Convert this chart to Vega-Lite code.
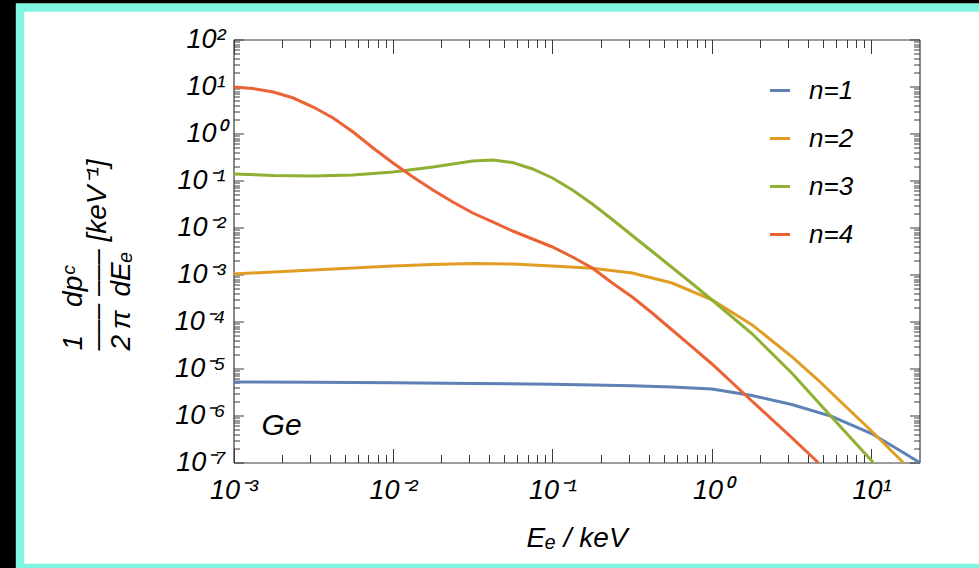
{
  "$schema": "https://vega.github.io/schema/vega-lite/v6.json",
  "width": 959,
  "height": 560.5,
  "autosize": {"type": "none"},
  "padding": {"left": 20, "top": 7.5, "right": 0, "bottom": 0},
  "background": "black",
  "config": {
    "view": {"fill": "white", "stroke": "#80F5DF", "strokeWidth": 8.4, "strokeDash": [959, 560.5, 1519.5], "strokeCap": "square"},
    "font": "Liberation Sans",
    "axis": {
      "grid": false,
      "tickColor": "#3a3a3a",
      "domainColor": "#3a3a3a",
      "tickWidth": 1,
      "domainWidth": 1.2,
      "labelFont": "Liberation Sans",
      "labelFontStyle": "italic",
      "labelFontSize": 27,
      "labelColor": "black",
      "labelOverlap": false,
      "labelFlush": false,
      "titleFont": "Liberation Sans",
      "titleFontStyle": "italic",
      "titleFontWeight": "normal",
      "titleColor": "black"
    }
  },
  "datasets": {
    "curves": [
      {"n": "n=1", "x": 0.001, "y": 5.16e-6},
      {"n": "n=1", "x": 0.003162, "y": 5.10e-6},
      {"n": "n=1", "x": 0.01, "y": 4.96e-6},
      {"n": "n=1", "x": 0.03162, "y": 4.80e-6},
      {"n": "n=1", "x": 0.1, "y": 4.63e-6},
      {"n": "n=1", "x": 0.3162, "y": 4.28e-6},
      {"n": "n=1", "x": 0.5623, "y": 4.04e-6},
      {"n": "n=1", "x": 1, "y": 3.66e-6},
      {"n": "n=1", "x": 1.778, "y": 2.66e-6},
      {"n": "n=1", "x": 3.162, "y": 1.714e-6},
      {"n": "n=1", "x": 5.623, "y": 9.62e-7},
      {"n": "n=1", "x": 10, "y": 4.14e-7},
      {"n": "n=1", "x": 15.07, "y": 1.80e-7},
      {"n": "n=1", "x": 20, "y": 1.0e-7},

      {"n": "n=2", "x": 0.001, "y": 1.025e-3},
      {"n": "n=2", "x": 0.001778, "y": 1.13e-3},
      {"n": "n=2", "x": 0.003162, "y": 1.247e-3},
      {"n": "n=2", "x": 0.005623, "y": 1.375e-3},
      {"n": "n=2", "x": 0.01, "y": 1.517e-3},
      {"n": "n=2", "x": 0.01778, "y": 1.633e-3},
      {"n": "n=2", "x": 0.03162, "y": 1.714e-3},
      {"n": "n=2", "x": 0.05623, "y": 1.672e-3},
      {"n": "n=2", "x": 0.1, "y": 1.517e-3},
      {"n": "n=2", "x": 0.1778, "y": 1.361e-3},
      {"n": "n=2", "x": 0.3162, "y": 1.076e-3},
      {"n": "n=2", "x": 0.5623, "y": 6.59e-4},
      {"n": "n=2", "x": 1, "y": 2.90e-4},
      {"n": "n=2", "x": 1.778, "y": 8.59e-5},
      {"n": "n=2", "x": 3.162, "y": 1.79e-5},
      {"n": "n=2", "x": 4.63, "y": 5.69e-6},
      {"n": "n=2", "x": 5.623, "y": 3.01e-6},
      {"n": "n=2", "x": 8.46, "y": 8.02e-7},
      {"n": "n=2", "x": 10, "y": 4.68e-7},
      {"n": "n=2", "x": 15.8, "y": 1.0e-7},

      {"n": "n=3", "x": 0.001, "y": 0.1375},
      {"n": "n=3", "x": 0.001778, "y": 0.1278},
      {"n": "n=3", "x": 0.003162, "y": 0.1247},
      {"n": "n=3", "x": 0.005623, "y": 0.1309},
      {"n": "n=3", "x": 0.01, "y": 0.1517},
      {"n": "n=3", "x": 0.01778, "y": 0.1937},
      {"n": "n=3", "x": 0.03162, "y": 0.26},
      {"n": "n=3", "x": 0.04217, "y": 0.2731},
      {"n": "n=3", "x": 0.05623, "y": 0.2415},
      {"n": "n=3", "x": 0.07499, "y": 0.1757},
      {"n": "n=3", "x": 0.1, "y": 0.113},
      {"n": "n=3", "x": 0.1334, "y": 0.0628},
      {"n": "n=3", "x": 0.1778, "y": 0.0316},
      {"n": "n=3", "x": 0.2371, "y": 0.0148},
      {"n": "n=3", "x": 0.3162, "y": 6.76e-3},
      {"n": "n=3", "x": 0.4217, "y": 3.09e-3},
      {"n": "n=3", "x": 0.5623, "y": 1.41e-3},
      {"n": "n=3", "x": 0.7499, "y": 6.43e-4},
      {"n": "n=3", "x": 1, "y": 2.87e-4},
      {"n": "n=3", "x": 1.778, "y": 5.55e-5},
      {"n": "n=3", "x": 3.162, "y": 8.02e-6},
      {"n": "n=3", "x": 5.623, "y": 9.29e-7},
      {"n": "n=3", "x": 10.25, "y": 1.0e-7},

      {"n": "n=4", "x": 0.001, "y": 9.76},
      {"n": "n=4", "x": 0.001315, "y": 9.07},
      {"n": "n=4", "x": 0.001778, "y": 7.64},
      {"n": "n=4", "x": 0.002371, "y": 5.69},
      {"n": "n=4", "x": 0.003162, "y": 3.66},
      {"n": "n=4", "x": 0.004217, "y": 2.137},
      {"n": "n=4", "x": 0.005623, "y": 1.076},
      {"n": "n=4", "x": 0.007499, "y": 0.4914},
      {"n": "n=4", "x": 0.01, "y": 0.2357},
      {"n": "n=4", "x": 0.01334, "y": 0.1187},
      {"n": "n=4", "x": 0.01778, "y": 0.0628},
      {"n": "n=4", "x": 0.02371, "y": 0.0349},
      {"n": "n=4", "x": 0.03162, "y": 0.02034},
      {"n": "n=4", "x": 0.04217, "y": 0.0131},
      {"n": "n=4", "x": 0.05623, "y": 8.42e-3},
      {"n": "n=4", "x": 0.07499, "y": 5.69e-3},
      {"n": "n=4", "x": 0.1, "y": 3.85e-3},
      {"n": "n=4", "x": 0.1334, "y": 2.357e-3},
      {"n": "n=4", "x": 0.1778, "y": 1.375e-3},
      {"n": "n=4", "x": 0.2371, "y": 6.59e-4},
      {"n": "n=4", "x": 0.3162, "y": 3.32e-4},
      {"n": "n=4", "x": 0.4217, "y": 1.517e-4},
      {"n": "n=4", "x": 0.5623, "y": 6.59e-5},
      {"n": "n=4", "x": 0.7499, "y": 2.87e-5},
      {"n": "n=4", "x": 1, "y": 1.247e-5},
      {"n": "n=4", "x": 1.778, "y": 2.034e-6},
      {"n": "n=4", "x": 3.162, "y": 3.40e-7},
      {"n": "n=4", "x": 4.63, "y": 1.0e-7}
    ],
    "tag": [
      {"label": "Ge", "x": 0.0015, "y": 3.85e-7}
    ]
  },
  "resolve": {"axis": {"x": "independent", "y": "independent"}},
  "layer": [
    {
      "data": {"name": "curves"},
      "mark": {"type": "line", "strokeWidth": 3},
      "encoding": {
        "x": {
          "field": "x", "type": "quantitative",
          "scale": {"type": "log", "domain": [0.001, 20], "range": [213.5, 899.5], "nice": false},
          "axis": {
            "orient": "bottom", "offset": -105.5,
            "values": [0.001, 0.01, 0.1, 1, 10],
            "labelExpr": "'10' + ['⁻⁷','⁻⁶','⁻⁵','⁻⁴','⁻³','⁻²','⁻¹','⁰','¹','²'][round(log(datum.value)/LN10) + 7]",
            "tickSize": -14, "labelPadding": 29.2, "labelBaseline": "top",
            "domain": true,
            "title": "Eₑ / keV", "titleFontSize": 28, "titleY": 83.5, "titleBaseline": "alphabetic"
          }
        },
        "y": {
          "field": "y", "type": "quantitative",
          "scale": {"type": "log", "domain": [1e-7, 100], "range": [455, 32], "nice": false},
          "axis": {
            "orient": "left", "offset": -213.5,
            "values": [1e-7, 1e-6, 1e-5, 1e-4, 1e-3, 0.01, 0.1, 1, 10, 100],
            "labelExpr": "'10' + ['⁻⁷','⁻⁶','⁻⁵','⁻⁴','⁻³','⁻²','⁻¹','⁰','¹','²'][round(log(datum.value)/LN10) + 7]",
            "tickSize": -10, "labelPadding": 18.5,
            "domain": true,
            "title": ["\u20021\u2002\u2002dpᶜ", "–––\u00a0–––\u00a0[keV⁻¹]", "\u20092\u2009π\u2002dEₑ"],
            "titleFontSize": 28, "titleAlign": "left", "titleBaseline": "middle", "titleAngle": 270,
            "titleX": -160.5, "titleY": 342.5, "titleLineHeight": 24
          }
        },
        "color": {
          "field": "n", "type": "nominal",
          "scale": {"domain": ["n=1", "n=2", "n=3", "n=4"], "range": ["#5E81B5", "#E19C24", "#8FB032", "#EB6235"]},
          "legend": {
            "title": null, "orient": "none", "legendX": 747, "legendY": 70,
            "symbolType": "stroke", "symbolSize": 400, "symbolStrokeWidth": 3,
            "labelFont": "Liberation Sans", "labelFontStyle": "italic", "labelFontSize": 26, "labelColor": "black",
            "labelOffset": 16, "rowPadding": 22, "padding": 0
          }
        }
      }
    },
    {
      "data": {"name": "tag"},
      "mark": {"type": "text", "font": "Liberation Sans", "fontStyle": "italic", "fontSize": 30, "align": "left", "baseline": "alphabetic", "color": "black"},
      "encoding": {
        "x": {
          "field": "x", "type": "quantitative",
          "scale": {"type": "log", "domain": [0.001, 20], "range": [213.5, 899.5], "nice": false},
          "axis": {
            "orient": "bottom", "offset": -105.5,
            "values": [0.002,0.003,0.004,0.005,0.006,0.007,0.008,0.009,0.02,0.03,0.04,0.05,0.06,0.07,0.08,0.09,0.2,0.3,0.4,0.5,0.6,0.7,0.8,0.9,2,3,4,5,6,7,8,9],
            "labels": false, "domain": false, "tickSize": -8, "title": null
          }
        },
        "y": {
          "field": "y", "type": "quantitative",
          "scale": {"type": "log", "domain": [1e-7, 100], "range": [455, 32], "nice": false},
          "axis": {
            "orient": "left", "offset": -213.5,
            "values": [2e-7,3e-7,4e-7,5e-7,6e-7,7e-7,8e-7,9e-7,2e-6,3e-6,4e-6,5e-6,6e-6,7e-6,8e-6,9e-6,2e-5,3e-5,4e-5,5e-5,6e-5,7e-5,8e-5,9e-5,2e-4,3e-4,4e-4,5e-4,6e-4,7e-4,8e-4,9e-4,2e-3,3e-3,4e-3,5e-3,6e-3,7e-3,8e-3,9e-3,0.02,0.03,0.04,0.05,0.06,0.07,0.08,0.09,0.2,0.3,0.4,0.5,0.6,0.7,0.8,0.9,2,3,4,5,6,7,8,9,20,30,40,50,60,70,80,90],
            "labels": false, "domain": false, "tickSize": -6, "title": null
          }
        },
        "text": {"field": "label"}
      }
    },
    {
      "data": {"name": "tag"},
      "mark": {"type": "point", "opacity": 0},
      "encoding": {
        "x": {
          "field": "x", "type": "quantitative",
          "scale": {"type": "log", "domain": [0.001, 20], "range": [213.5, 899.5], "nice": false},
          "axis": {
            "orient": "top", "offset": -32,
            "values": [0.001, 0.01, 0.1, 1, 10],
            "labels": false, "domain": true, "tickSize": -14, "title": null
          }
        },
        "y": {
          "field": "y", "type": "quantitative",
          "scale": {"type": "log", "domain": [1e-7, 100], "range": [455, 32], "nice": false},
          "axis": {
            "orient": "right", "offset": -59.5,
            "values": [1e-7, 1e-6, 1e-5, 1e-4, 1e-3, 0.01, 0.1, 1, 10, 100],
            "labels": false, "domain": true, "tickSize": -10, "title": null
          }
        }
      }
    },
    {
      "data": {"name": "tag"},
      "mark": {"type": "point", "opacity": 0},
      "encoding": {
        "x": {
          "field": "x", "type": "quantitative",
          "scale": {"type": "log", "domain": [0.001, 20], "range": [213.5, 899.5], "nice": false},
          "axis": {
            "orient": "top", "offset": -32,
            "values": [0.002,0.003,0.004,0.005,0.006,0.007,0.008,0.009,0.02,0.03,0.04,0.05,0.06,0.07,0.08,0.09,0.2,0.3,0.4,0.5,0.6,0.7,0.8,0.9,2,3,4,5,6,7,8,9],
            "labels": false, "domain": false, "tickSize": -8, "title": null
          }
        },
        "y": {
          "field": "y", "type": "quantitative",
          "scale": {"type": "log", "domain": [1e-7, 100], "range": [455, 32], "nice": false},
          "axis": {
            "orient": "right", "offset": -59.5,
            "values": [2e-7,3e-7,4e-7,5e-7,6e-7,7e-7,8e-7,9e-7,2e-6,3e-6,4e-6,5e-6,6e-6,7e-6,8e-6,9e-6,2e-5,3e-5,4e-5,5e-5,6e-5,7e-5,8e-5,9e-5,2e-4,3e-4,4e-4,5e-4,6e-4,7e-4,8e-4,9e-4,2e-3,3e-3,4e-3,5e-3,6e-3,7e-3,8e-3,9e-3,0.02,0.03,0.04,0.05,0.06,0.07,0.08,0.09,0.2,0.3,0.4,0.5,0.6,0.7,0.8,0.9,2,3,4,5,6,7,8,9,20,30,40,50,60,70,80,90],
            "labels": false, "domain": false, "tickSize": -6, "title": null
          }
        }
      }
    }
  ]
}
